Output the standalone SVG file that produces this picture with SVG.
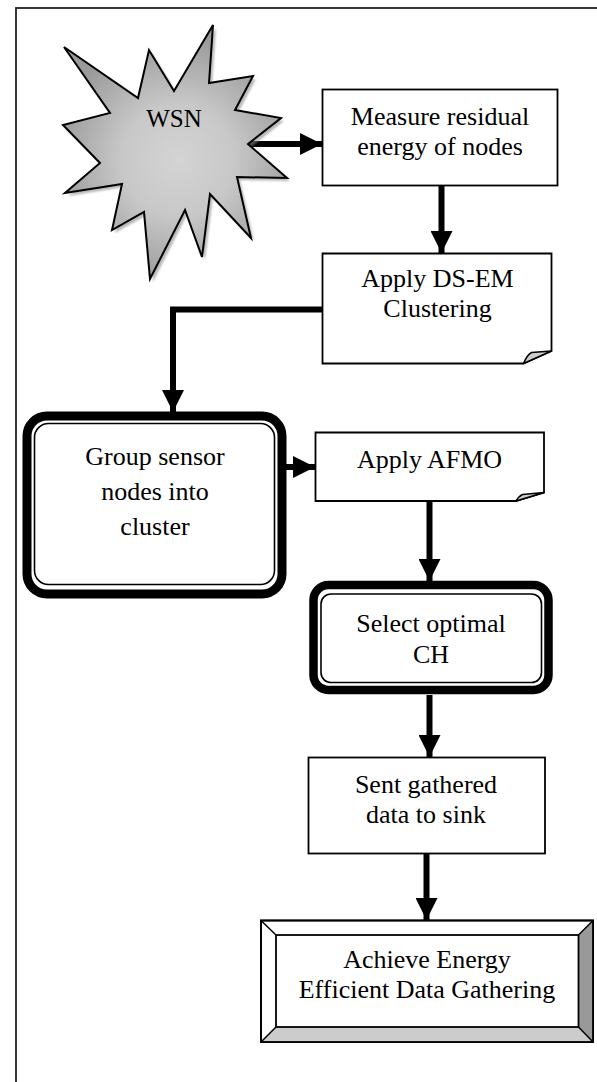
<svg xmlns="http://www.w3.org/2000/svg" width="597" height="1082" viewBox="0 0 597 1082">
<defs>
<style>
text{font-family:'Liberation Serif','Times New Roman',Times,serif;font-size:26px;fill:#000;text-anchor:middle}
.box{fill:#fff;stroke:#000;stroke-width:1.8}
.con{fill:none;stroke:#000;stroke-width:6}
</style>
<radialGradient id="starG" gradientUnits="userSpaceOnUse" cx="178" cy="160" r="125">
<stop offset="0" stop-color="#d4d4d4"/>
<stop offset="0.45" stop-color="#c8c8c8"/>
<stop offset="1" stop-color="#9a9a9a"/>
</radialGradient>
<marker id="ah" markerUnits="userSpaceOnUse" markerWidth="22" markerHeight="22" viewBox="0 0 20 20" refX="20" refY="10" orient="auto">
<path d="M0,0 L20,10 L0,20 Z" fill="#000"/>
</marker>
<filter id="blur" x="-10%" y="-10%" width="120%" height="120%"><feGaussianBlur stdDeviation="1"/></filter>
</defs>
<rect width="597" height="1082" fill="#fff"/>
<rect x="16" y="8" width="620" height="1100" fill="none" stroke="#222" stroke-width="1.8"/>

<g id="connectors">
<line class="con" x1="248" y1="144" x2="322" y2="144" marker-end="url(#ah)"/>
<line class="con" x1="441.5" y1="185" x2="441.5" y2="253" marker-end="url(#ah)"/>
<polyline class="con" points="323,309.5 173,309.5 173,412" marker-end="url(#ah)"/>
<line class="con" x1="286" y1="467" x2="315" y2="467" marker-end="url(#ah)"/>
<line class="con" x1="429.5" y1="501" x2="429.5" y2="581" marker-end="url(#ah)"/>
<line class="con" x1="429.5" y1="695" x2="429.5" y2="757" marker-end="url(#ah)"/>
<line class="con" x1="426.5" y1="853" x2="426.5" y2="920" marker-end="url(#ah)"/>
</g>

<g id="wsn">
<polygon points="64,47 138,98 149,50 174,91 213,25 209,83 253,76 235,110 281,118 248,144 287,178 237,177 251,238 210,194 202,257 185,210 150,279 144,212 112,230 122,184 65,193 100,163 63,125 110,113" fill="#888" opacity="0.6" transform="translate(3,3)" filter="url(#blur)"/>
<polygon points="64,47 138,98 149,50 174,91 213,25 209,83 253,76 235,110 281,118 248,144 287,178 237,177 251,238 210,194 202,257 185,210 150,279 144,212 112,230 122,184 65,193 100,163 63,125 110,113" fill="url(#starG)" stroke="#000" stroke-width="2" stroke-linejoin="miter"/>
<text x="174" y="127" style="font-size:25px">WSN</text>
</g>

<g id="measure">
<rect class="box" x="322.5" y="89.5" width="235" height="96"/>
<text x="440" y="125">Measure residual</text>
<text x="440" y="155">energy of nodes</text>
</g>

<g id="dsem">
<path class="box" d="M322.5,253.5 H551.5 V351 L523.5,363.5 H322.5 Z"/>
<path d="M523.5,363.5 Q527,355 531.5,352.5 L551.5,351 Z" fill="#ccc" stroke="#000" stroke-width="1.5" stroke-linejoin="round"/>
<text x="437.5" y="287">Apply DS-EM</text>
<text x="437.5" y="317">Clustering</text>
</g>

<g id="group">
<rect x="27" y="416" width="255" height="178" rx="20" fill="#fff" stroke="#000" stroke-width="9"/>
<rect x="34.5" y="423.5" width="240" height="161" rx="14" fill="none" stroke="#000" stroke-width="1.6"/>
<text x="155" y="465">Group sensor</text>
<text x="155" y="500">nodes into</text>
<text x="155" y="535">cluster</text>
</g>

<g id="afmo">
<path class="box" d="M315.5,432.5 H544 V492.5 L516,501 H315.5 Z"/>
<path d="M516,501 Q519,496 522.5,494.5 L544,492.5 Z" fill="#ccc" stroke="#000" stroke-width="1.5" stroke-linejoin="round"/>
<text x="429.5" y="468">Apply AFMO</text>
</g>

<g id="select">
<rect x="313.5" y="585" width="235" height="105" rx="15" fill="#fff" stroke="#000" stroke-width="8.5"/>
<rect x="321" y="594" width="220.5" height="88.5" rx="10" fill="none" stroke="#000" stroke-width="1.6"/>
<text x="431" y="632">Select optimal</text>
<text x="431" y="663">CH</text>
</g>

<g id="sent">
<rect class="box" x="308.5" y="757.5" width="236.5" height="96"/>
<text x="426" y="793">Sent gathered</text>
<text x="426" y="823">data to sink</text>
</g>

<g id="achieve">
<rect x="261" y="920.5" width="332" height="121.5" fill="#fff" stroke="#000" stroke-width="1.8"/>
<polygon points="578.5,935 593,920.5 593,1042 578.5,1027" fill="#999"/>
<polygon points="276,1027 578.5,1027 593,1042 261,1042" fill="#ccc"/>
<rect x="276" y="935" width="302.5" height="92" fill="#fff" stroke="#000" stroke-width="1.8"/>
<path d="M261,920.5 L276,935 M593,920.5 L578.5,935 M261,1042 L276,1027 M593,1042 L578.5,1027" stroke="#000" stroke-width="1.5"/>
<rect x="261" y="920.5" width="332" height="121.5" fill="none" stroke="#000" stroke-width="1.8"/>
<text x="427" y="968">Achieve Energy</text>
<text x="427" y="998">Efficient Data Gathering</text>
</g>
</svg>
